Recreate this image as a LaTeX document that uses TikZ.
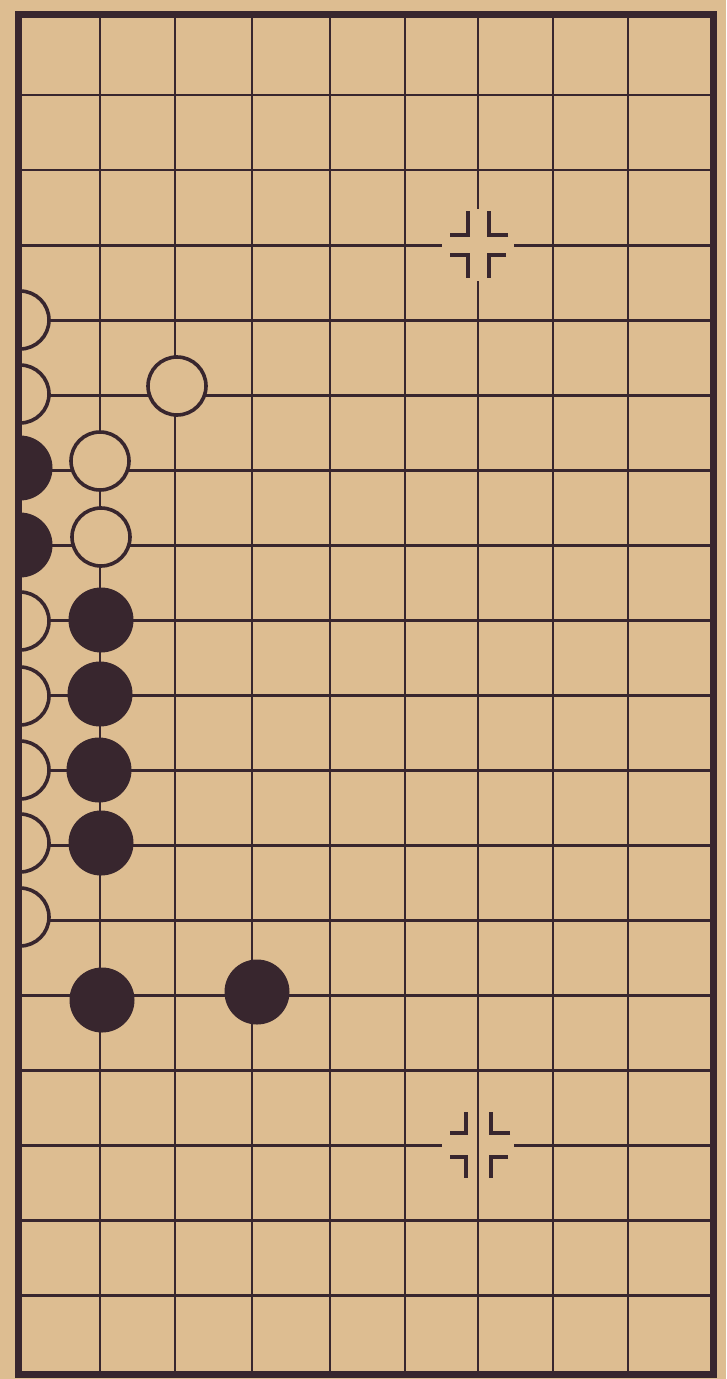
\documentclass[tikz,border=0pt]{standalone}
\usetikzlibrary{calc}
\definecolor{paper}{RGB}{221,189,145}
\definecolor{ink}{RGB}{56,38,46}
\begin{document}
\begin{tikzpicture}[x=1pt,y=-1pt,
  gridline/.style={ink, line width=2.8pt},
  frameline/.style={ink, line width=7pt},
  wstone/.style={circle, draw=ink, fill=paper, line width=3.6pt, minimum size=58pt, inner sep=0pt},
  bstone/.style={circle, draw=ink, fill=ink, line width=1pt, minimum size=64pt, inner sep=0pt},
  starmark/.style={ink, line width=4.8pt}]
\useasboundingbox (0,0) rectangle (726,1379);
\fill[paper] (0,0) rectangle (726,1379);
% grid
\foreach \x in {100,175,252,330,405,478,553,628}
  \draw[gridline] (\x,14) -- (\x,1374);
\foreach \k in {0,...,16}
  \draw[gridline] (18,{95+75.05*\k}) -- (713,{95+75.05*\k});
% star point, upper (centre cleared)
\coordinate (s1) at (478,245);
\fill[paper] ($(s1)+(-36,-36)$) rectangle ($(s1)+(36,36)$);
\draw[starmark] ($(s1)+(-28,-10)$) -- ($(s1)+(-10,-10)$) -- ($(s1)+(-10,-34)$);
\draw[starmark] ($(s1)+(30,-10)$) -- ($(s1)+(11,-10)$) -- ($(s1)+(11,-34)$);
\draw[starmark] ($(s1)+(-28,10)$) -- ($(s1)+(-10,10)$) -- ($(s1)+(-10,33)$);
\draw[starmark] ($(s1)+(28,10)$) -- ($(s1)+(11,10)$) -- ($(s1)+(11,33)$);
% star point, lower (vertical line runs through)
\coordinate (s2) at (478,1145);
\fill[paper] ($(s2)+(-36,-5)$) rectangle ($(s2)+(36,5)$);
\draw[gridline] ($(s2)+(0,-36)$) -- ($(s2)+(0,36)$);
\draw[starmark] ($(s2)+(-28,-12)$) -- ($(s2)+(-12,-12)$) -- ($(s2)+(-12,-33)$);
\draw[starmark] ($(s2)+(32,-12)$) -- ($(s2)+(13,-12)$) -- ($(s2)+(13,-33)$);
\draw[starmark] ($(s2)+(-28,12)$) -- ($(s2)+(-12,12)$) -- ($(s2)+(-12,33)$);
\draw[starmark] ($(s2)+(30,12)$) -- ($(s2)+(13,12)$) -- ($(s2)+(13,33)$);
% half stones on the left edge
\begin{scope}
\clip (20,0) rectangle (726,1379);
\node[wstone] (e3) at (20,320) {};
\node[wstone] (e4) at (20,394) {};
\node[bstone] (e5) at (20,468) {};
\node[bstone] (e6) at (20,545) {};
\node[wstone] (e7) at (20,621) {};
\node[wstone] (e8) at (20,696) {};
\node[wstone] (e9) at (20,770) {};
\node[wstone] (e10) at (20,843) {};
\node[wstone] (e11) at (20,917) {};
\end{scope}
% full stones
\node[wstone] (w1) at (177,386) {};
\node[wstone] (w2) at (100,461) {};
\node[wstone] (w3) at (101,537) {};
\node[bstone] (b1) at (101,620) {};
\node[bstone] (b2) at (100,694) {};
\node[bstone] (b3) at (99,770) {};
\node[bstone] (b4) at (101,843) {};
\node[bstone] (b5) at (102,1000) {};
\node[bstone] (b6) at (257,992) {};
% frame
\draw[frameline] (18,14) rectangle (713,1374);
\end{tikzpicture}
\end{document}
